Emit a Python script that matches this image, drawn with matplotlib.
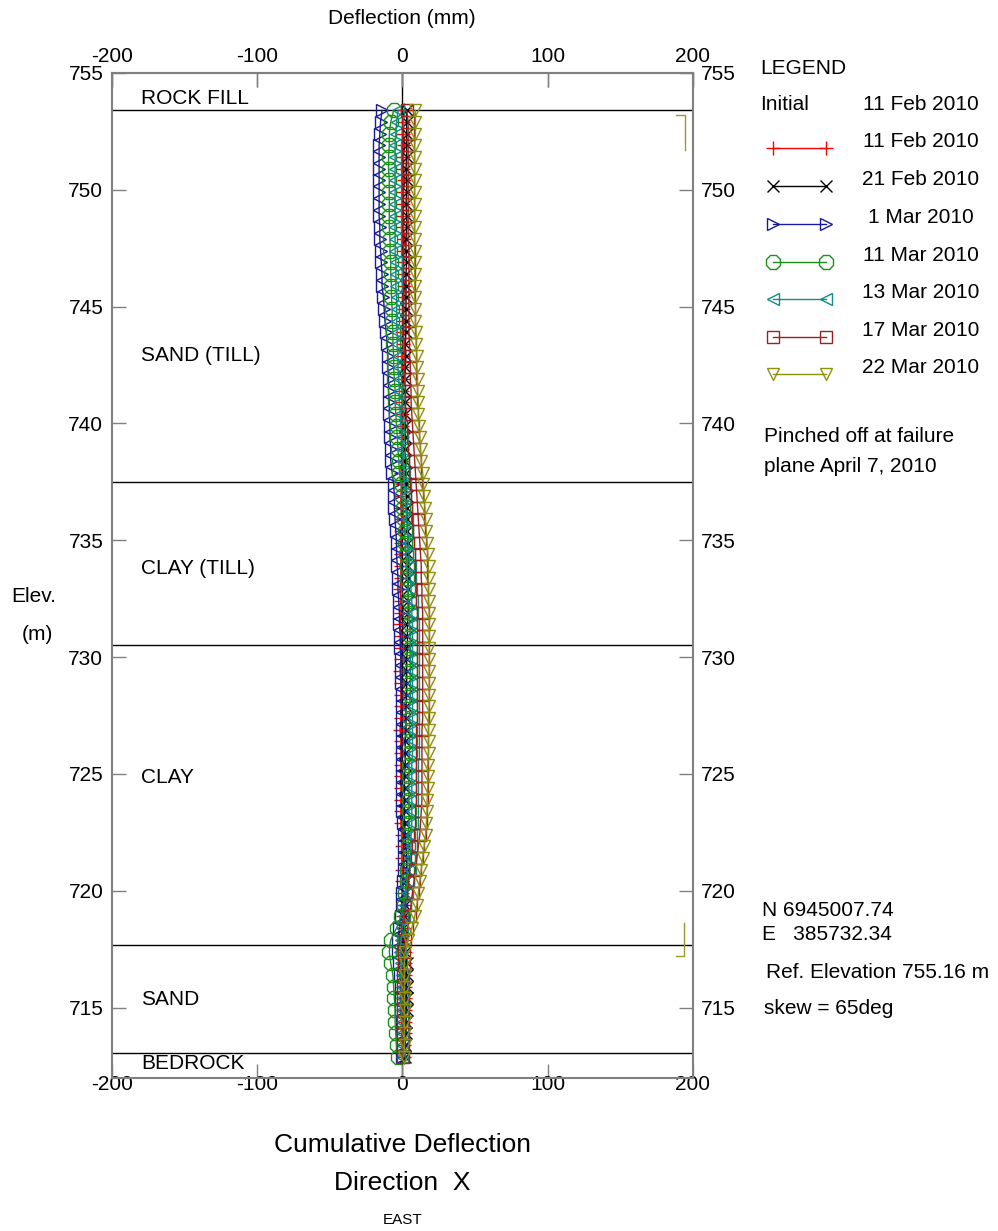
import numpy as np
import matplotlib
matplotlib.use("Agg")
import matplotlib.pyplot as plt
from matplotlib.lines import Line2D

plt.rcParams["font.family"] = ["Liberation Sans", "DejaVu Sans"]
plt.rcParams["axes.unicode_minus"] = False

# --- data: readings every 0.5 m from the top of the casing ---
elev = np.arange(753.4, 712.8, -0.5)

feb11 = [1, 0.5, 0.5, 1, 0.5, 0.5, 1, 0.5, 0.5, 0.5,
         0.5, 1, 0.5, 0.5, 0.5, 1, 0.5, 0.5, 0.5, 0,
         0.5, 0, 0, 0.5, 0, 0, -0.5, 0, -0.5, -0.5,
         -0.5, -1, -0.5, -1, -1, -0.5, -1, -1, -1, -1,
         -1, -1.5, -1, -1, -1.5, -1, -1, -1, -1.5, -1,
         -1, -1, -1, -1.5, -1, -1, -1, -1, -1, -1,
         -1, -1, -0.5, -0.5, -0.5, 0, 0, 0, 0.5, 0.5,
         1, 1, 1.5, 1.5, 1.5, 1.5, 1.5, 1.5, 1.5, 1.5, 1, 1]
feb21 = [3, 3, 3, 3, 3, 2.5, 3, 3, 2.5, 3,
         3, 2.5, 2.5, 3, 2.5, 2.5, 2.5, 2.5, 2.5, 2.5,
         2, 2.5, 2, 2, 2, 2, 2, 2, 2, 2,
         2, 2.5, 2.5, 3, 3, 3.5, 3.5, 4, 4, 4,
         4, 4, 4, 4, 3.5, 3.5, 3.5, 3, 3, 3,
         3, 2.5, 2.5, 2.5, 2, 2, 2, 1.5, 1.5, 1.5,
         1.5, 1.5, 2, 2.5, 3, 3, 2.5, 2, 1.5, 1,
         0.5, 1, 2, 3, 3, 3, 3, 3, 2.5, 2.5, 2, 1.5]
mar01 = [-14, -15, -15.5, -16, -16, -16, -16, -16, -16, -16,
         -15.5, -15.5, -15, -14.5, -14, -14, -13, -12.5, -12, -11,
         -10.5, -10, -10, -9.5, -9.5, -9, -9, -8.5, -8.5, -8,
         -8, -7, -6, -5.5, -5.5, -5, -4.5, -4, -4, -3.5,
         -3, -3, -2.5, -2, -2, -1.5, -1.5, -1, -1, -1,
         -0.5, -0.5, -0.5, -0.5, -0.5, -0.5, -0.5, -0.5, 0, 0,
         0, 0.5, 1, 1, 1, 1, 0.5, 0, -0.5, -1,
         -2, -3, -3, -2, -1.5, -1, -1, -1, -0.5, -0.5, 0, 0]
mar11 = [-6, -8, -9, -9, -9.5, -9.5, -9, -9, -9, -9,
         -9, -8.5, -8.5, -8, -8, -7.5, -7.5, -7, -7, -6.5,
         -6.5, -6, -6, -5.5, -5, -5, -4.5, -4, -3.5, -3,
         -2.5, -2, -1, 0, 0.5, 1, 1.5, 2, 2.5, 3,
         3.5, 4, 4.5, 5, 5, 5.5, 5.5, 5.5, 5.5, 5.5,
         5.5, 5, 5, 5, 5, 5, 4.5, 4.5, 4.5, 4.5,
         4.5, 4.5, 4, 4, 4, 3.5, 3, 2, 1, -1,
         -4, -8, -9, -8, -6.5, -6, -5.5, -5, -5, -4.5, -4, -3]
mar13 = [-3, -4, -4.5, -5, -5, -5, -5, -5, -5, -5,
         -5, -5, -5, -4.5, -4.5, -4.5, -4, -4, -4, -3.5,
         -3.5, -3, -3, -2.5, -2, -2, -1.5, -1, -0.5, 0,
         0.5, 1, 1.5, 2, 2.5, 3, 3.5, 4, 4.5, 5,
         5.5, 6, 6.5, 6.5, 7, 7, 7, 7, 7, 7,
         7, 7, 7, 7, 7, 7, 6.5, 6.5, 6.5, 6.5,
         6.5, 6.5, 6, 6, 5.5, 5, 4, 3, 2, 1,
         0, -1, -1.5, -1, -0.5, 0, 0, 0, 0, 0, 0, 0]
mar17 = [3, 4, 4, 4, 4, 4, 4, 4, 4, 4,
         4, 4, 4.5, 4.5, 4.5, 4.5, 4.5, 4.5, 4.5, 4.5,
         5, 5, 5.5, 5.5, 6, 6, 6.5, 7, 7.5, 8,
         8.5, 9, 9.5, 10, 10.5, 11, 11.5, 12, 12.5, 13,
         13, 13.5, 13.5, 14, 14, 14, 14, 14, 14, 14,
         14, 14, 14, 13.5, 13.5, 13.5, 13.5, 13.5, 13.5, 13.5,
         13, 12.5, 12, 11, 10, 9, 8, 7, 6, 5,
         3.5, 2, 1, 1, 0.5, 0.5, 0.5, 0.5, 0.5, 0.5, 0.5, 0.5]
mar22 = [9, 9, 9, 8.5, 8.5, 8.5, 8.5, 8.5, 8.5, 8.5,
         8.5, 8.5, 8.5, 8.5, 8.5, 8.5, 8.5, 9, 9, 9.5,
         9.5, 10, 10, 10.5, 10.5, 11, 11, 11.5, 12, 12.5,
         13, 14, 14.5, 15, 15.5, 16, 16.5, 17, 17.5, 18,
         18, 18, 18, 18.5, 18.5, 18.5, 18.5, 18.5, 18.5, 18.5,
         18.5, 18.5, 18, 18, 18, 18, 17.5, 17.5, 17.5, 17,
         17, 16.5, 16, 15, 14, 13, 12, 11, 10, 8.5,
         6.5, 4, 2, 1.5, 1.5, 1.5, 1.5, 1.5, 1.5, 1.5, 1.5, 1]

labels = ["11 Feb 2010", "21 Feb 2010", "1 Mar 2010", "11 Mar 2010",
          "13 Mar 2010", "17 Mar 2010", "22 Mar 2010"]
series = [feb11, feb21, mar01, mar11, mar13, mar17, mar22]
colors = ["#ff0000", "#000000", "#1a1a9a", "#1a8f1a", "#138b8b", "#a02020", "#8e8e10"]
markers = ["+", "x", ">", "8", "<", "s", "v"]
msizes = [10, 8, 8, 11, 8, 8, 9]

# soil layers: boundaries and label elevations
layer_tops = [753.42, 737.5, 730.5, 717.67, 713.05]
layer_names = ["ROCK FILL", "SAND (TILL)", "CLAY (TILL)", "CLAY", "SAND", "BEDROCK"]
layer_label_elev = [753.93, 742.93, 733.81, 724.86, 715.36, 712.62]
bracket_top = (753.2, 751.7)
bracket_bot = (718.6, 717.2)

xticks = [-200, -100, 0, 100, 200]
yticks = [715, 720, 725, 730, 735, 740, 745, 750, 755]

W, H = 998, 1231
fig = plt.figure(figsize=(W / 100, H / 100), dpi=100)
ax = fig.add_axes([111.7 / W, 1 - 1077.7 / H, (693 - 111.7) / W, (1077.7 - 73) / H])

def fx(x, y):
    return x / W, 1 - y / H

ax.axvline(0, color="black", lw=1, zorder=1)
for e in layer_tops:
    ax.axhline(e, color="black", lw=1, zorder=1)
for name, e in zip(layer_names, layer_label_elev):
    ax.text(-180, e, name, fontsize=15, va="center", ha="left")

for vals, c, m, ms in zip(series, colors, markers, msizes):
    ax.plot(vals, elev, color=c, lw=1, marker=m, ms=ms, mfc="none",
            mec=c, mew=1, zorder=3)

ol = "#9a9a2a"
ax.plot([188.3, 194.5, 194.5], [bracket_top[0], bracket_top[0], bracket_top[1]], color=ol, lw=1)
ax.plot([194.0, 194.0, 188.3], [bracket_bot[0], bracket_bot[1], bracket_bot[1]], color=ol, lw=1)

ax.set_xlim(-200, 200)
ax.set_ylim(712, 755)
ax.set_xticks(xticks)
ax.set_yticks(yticks)
ax.tick_params(direction="in", length=10, width=1, color="#808080", labelsize=15,
               top=True, right=True, labeltop=False, labelright=True)
ax.tick_params(axis="x", pad=-2)
ax.tick_params(axis="y", pad=6)
for sp in ax.spines.values():
    sp.set_color("#808080")
    sp.set_linewidth(1.5)

# top scale with its own label spacing
sax = ax.secondary_xaxis("top")
sax.set_xticks(xticks)
sax.tick_params(direction="in", length=10, width=1, color="#808080", labelsize=15, pad=5)
sax.spines["top"].set_color("#808080")
sax.spines["top"].set_linewidth(1.5)

fig.text(*fx(402, 18), "Deflection (mm)", fontsize=15, ha="center", va="center")
fig.text(*fx(34, 597), "Elev.", fontsize=15, ha="center", va="center")
fig.text(*fx(37, 635), "(m)", fontsize=15, ha="center", va="center")
fig.text(*fx(402, 1145), "Cumulative Deflection", fontsize=19, ha="center", va="center")
fig.text(*fx(402, 1183), "Direction  X", fontsize=19, ha="center", va="center")
fig.text(*fx(403, 1220), "EAST", fontsize=11, ha="center", va="center")

# legend block
fig.text(*fx(760, 68), "LEGEND", fontsize=15, ha="left", va="center")
fig.text(*fx(760, 105), "Initial", fontsize=15, ha="left", va="center")
fig.text(*fx(921, 105), "11 Feb 2010", fontsize=15, ha="center", va="center")
row_y = [141.7, 179.3, 217.3, 255, 292.7, 330.7, 367.3]
for lab, c, m, ms, ty in zip(labels, colors, markers, msizes, row_y):
    fig.text(*fx(921, ty), lab, fontsize=15, ha="center", va="center")
    x1, y1 = fx(773, ty + 6.5)
    x2, y2 = fx(826, ty + 6.5)
    fig.add_artist(Line2D([x1, x2], [y1, y2], transform=fig.transFigure, color=c, lw=1,
                          marker=m, ms=ms, mfc="none", mec=c))

fig.text(*fx(764, 437), "Pinched off at failure", fontsize=15, ha="left", va="center")
fig.text(*fx(764, 467), "plane April 7, 2010", fontsize=15, ha="left", va="center")
fig.text(*fx(762, 910), "N 6945007.74", fontsize=15, ha="left", va="center")
fig.text(*fx(762, 935), "E   385732.34", fontsize=15, ha="left", va="center")
fig.text(*fx(766, 973), "Ref. Elevation 755.16 m", fontsize=15, ha="left", va="center")
fig.text(*fx(764, 1008), "skew = 65deg", fontsize=15, ha="left", va="center")

fig.savefig("out.png", dpi=100)
